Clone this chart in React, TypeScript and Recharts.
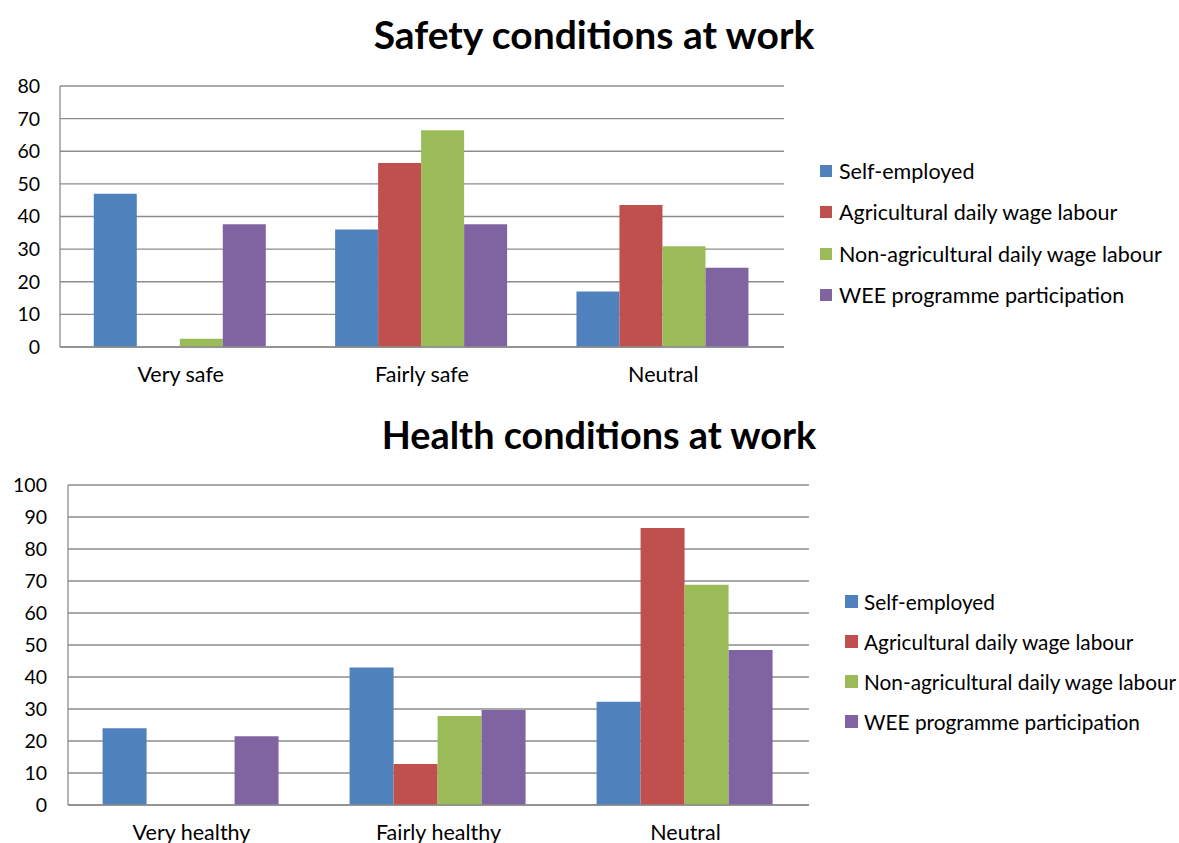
import { BarChart, Bar, XAxis, YAxis, CartesianGrid } from 'recharts';

const safetyCategories = ['Very safe', 'Fairly safe', 'Neutral'];
const safetySelfEmployed = [47, 36, 17];
const safetyAgricultural = [0, 56.4, 43.5];
const safetyNonAgricultural = [2.5, 66.4, 30.9];
const safetyWee = [37.6, 37.6, 24.3];
const safetyTicks = [0, 10, 20, 30, 40, 50, 60, 70, 80];

const healthCategories = ['Very healthy', 'Fairly healthy', 'Neutral'];
const healthSelfEmployed = [24, 43, 32.3];
const healthAgricultural = [0, 12.8, 86.6];
const healthNonAgricultural = [0, 27.8, 68.8];
const healthWee = [21.5, 29.7, 48.4];
const healthTicks = [0, 10, 20, 30, 40, 50, 60, 70, 80, 90, 100];

const seriesNames = [
  'Self-employed',
  'Agricultural daily wage labour',
  'Non-agricultural daily wage labour',
  'WEE programme participation',
];
const seriesColors = ['#4F81BD', '#C0504D', '#9BBB59', '#8064A2'];

const FONT = 'Lato, "Open Sans", sans-serif';
const GRID = '#8c8c8c';

const buildRows = (cats: string[], a: number[], b: number[], c: number[], d: number[]) =>
  cats.map((name, i) => ({ name, s0: a[i], s1: b[i], s2: c[i], s3: d[i] }));

const safetyData = buildRows(safetyCategories, safetySelfEmployed, safetyAgricultural, safetyNonAgricultural, safetyWee);
const healthData = buildRows(healthCategories, healthSelfEmployed, healthAgricultural, healthNonAgricultural, healthWee);

// legend kept outside the svg so it doesn't eat into the plot area
type LegendProps = { left: number; top: number; rowGap: number; box: number; size: number; gap: number };

const SeriesLegend = ({ left, top, rowGap, box, size, gap }: LegendProps) => (
  <div style={{ position: 'absolute', left, top, fontFamily: FONT, fontSize: size, color: '#000' }}>
    {seriesNames.map((name, i) => (
      <div key={name} style={{ display: 'flex', alignItems: 'center', height: rowGap, whiteSpace: 'nowrap' }}>
        <span style={{ width: box, height: box, background: seriesColors[i], marginRight: gap, display: 'inline-block' }} />
        <span>{name}</span>
      </div>
    ))}
  </div>
);

type PanelProps = {
  data: any[];
  ticks: number[];
  max: number;
  top: number;
  width: number;
  height: number;
  plotTop: number;
  plotLeft: number;
  plotRight: number;
  axisHeight: number;
  tickGap: number;
  labelGap: number;
};

const Panel = (p: PanelProps) => (
  <div style={{ position: 'absolute', left: 0, top: p.top }}>
    <BarChart
      width={p.width}
      height={p.height}
      data={p.data}
      margin={{ top: p.plotTop, left: 0, right: p.width - p.plotRight, bottom: 0 }}
      barGap={0}
      barCategoryGap="14%"
    >
      <CartesianGrid vertical={false} stroke={GRID} strokeWidth={1.3} />
      <XAxis
        dataKey="name"
        height={p.axisHeight}
        stroke={GRID}
        strokeWidth={1.3}
        tickLine={false}
        tickSize={0}
        tickMargin={p.labelGap}
        tick={{ fill: '#000', fontSize: 21.5, fontFamily: FONT }}
      />
      <YAxis
        width={p.plotLeft}
        domain={[0, p.max]}
        ticks={p.ticks}
        interval={0}
        stroke={GRID}
        strokeWidth={1.3}
        tickLine={false}
        tickSize={0}
        tickMargin={p.tickGap}
        tick={{ fill: '#000', fontSize: 19.5, fontFamily: FONT }}
      />
      {seriesNames.map((name, i) => (
        <Bar key={name} dataKey={`s${i}`} name={name} fill={seriesColors[i]} isAnimationActive={false} />
      ))}
    </BarChart>
  </div>
);

const titleStyle = (top: number, center: number, size: number): React.CSSProperties => ({
  position: 'absolute',
  top,
  left: center - 300,
  width: 600,
  textAlign: 'center',
  fontFamily: FONT,
  fontWeight: 700,
  fontSize: size,
  lineHeight: '44px',
  color: '#000',
});

export default function App() {
  return (
    <div style={{ position: 'absolute', left: 0, top: 0, width: 1179, height: 843, background: '#fff', overflow: 'hidden' }}>
      <div style={titleStyle(12, 594, 39)}>Safety conditions at work</div>
      <Panel
        data={safetyData}
        ticks={safetyTicks}
        max={80}
        top={0}
        width={1179}
        height={400}
        plotTop={86}
        plotLeft={60}
        plotRight={784}
        axisHeight={53}
        tickGap={20}
        labelGap={20}
      />
      <SeriesLegend left={820} top={150} rowGap={41.5} box={12} size={21.5} gap={7} />
      <div style={titleStyle(413, 599, 37.8)}>Health conditions at work</div>
      <Panel
        data={healthData}
        ticks={healthTicks}
        max={100}
        top={400}
        width={1179}
        height={443}
        plotTop={85}
        plotLeft={68}
        plotRight={809}
        axisHeight={38}
        tickGap={21}
        labelGap={20}
      />
      <SeriesLegend left={845} top={581} rowGap={40} box={13} size={20.8} gap={6} />
    </div>
  );
}
